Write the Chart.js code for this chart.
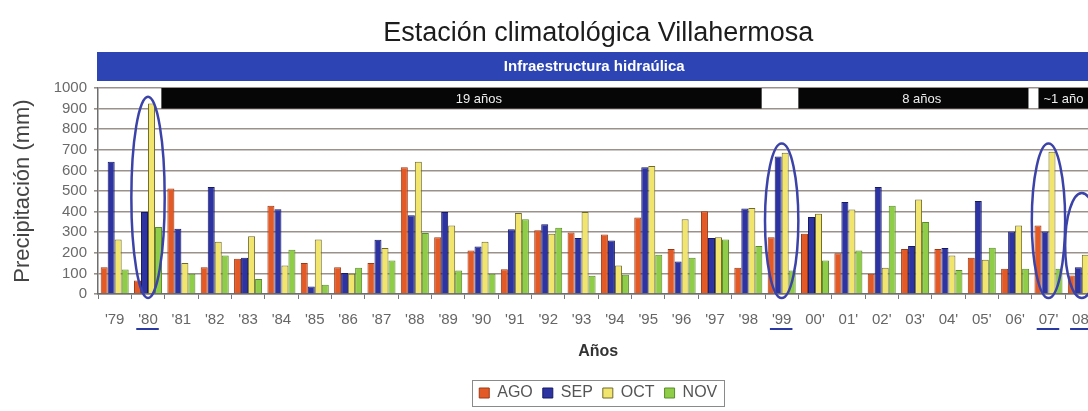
<!DOCTYPE html>
<html>
<head>
<meta charset="utf-8">
<title>Estación climatológica Villahermosa</title>
<script src="https://cdn.jsdelivr.net/npm/chart.js@4/dist/chart.umd.min.js"></script>
<style>
  html, body { margin: 0; padding: 0; background: #ffffff; overflow: hidden; }
  #wrap { position: relative; width: 1110px; height: 411px; }
</style>
</head>
<body>
<div id="wrap"><canvas id="chart"></canvas></div>
<script>
// Years (x categories)
const years = ["'79", "'80", "'81", "'82", "'83", "'84", "'85", "'86", "'87", "'88",
               "'89", "'90", "'91", "'92", "'93", "'94", "'95", "'96", "'97", "'98",
               "'99", "00'", "01'", "02'", "03'", "04'", "05'", "06'", "07'", "08'"];

// Monthly precipitation (mm)
const ago = [130, 65, 512, 130, 171, 428, 150, 130, 150, 615, 276, 211, 120, 309, 298,
             289, 371, 219, 402, 127, 276, 293, 198, 98, 219, 219, 176, 122, 333, 90];
const sep = [642, 398, 317, 520, 176, 411, 37, 102, 263, 382, 398, 231, 314, 338, 272,
             260, 615, 158, 272, 415, 667, 374, 447, 520, 233, 223, 452, 304, 304, 130];
const oct = [265, 925, 150, 254, 280, 138, 265, 98, 223, 642, 333, 254, 393, 293, 398,
             138, 621, 363, 276, 418, 686, 390, 410, 127, 459, 187, 166, 333, 691, 190];
const nov = [119, 325, 98, 187, 73, 215, 45, 127, 163, 296, 114, 98, 363, 322, 89,
             93, 190, 176, 265, 233, 114, 163, 211, 428, 350, 117, 224, 122, 122, 100];

// Y axis tick labels (mm)
const yTicks = [0, 100, 200, 300, 400, 500, 600, 700, 800, 900, 1000];

// Banner over the whole period
const bannerText = 'Infraestructura hidraúlica';

// Periods between events, in year units counted from the first year's left edge
const periodFrom  = [1.9, 21.0, 28.2];
const periodTo    = [19.9, 27.9, 31.0];
const periodLabel = ['19 años', '8 años', '~1 año'];
const periodTextAt = [11.42, 24.7, 28.95];

// Highlighted years and the top of the marking ellipse (mm)
const circledYears = ["'80", "'99", "07'", "08'"];
const circledTop   = [958, 730, 730, 490];

const FONT = '"Liberation Sans", Arial, Helvetica, sans-serif';
Chart.defaults.font.family = FONT;

const decor = {
  id: 'decor',
  beforeDatasetsDraw(chart) {
    const { ctx, chartArea: a, scales: { x, y } } = chart;
    ctx.save();
    // blue banner
    ctx.fillStyle = '#2c44b4';
    ctx.fillRect(a.left - 1, a.top - 36, chart.width - a.left + 1, 29);
    ctx.fillStyle = '#ffffff';
    ctx.font = 'bold 15px ' + FONT;
    ctx.textAlign = 'center';
    ctx.textBaseline = 'middle';
    ctx.fillText(bannerText, (a.left + a.right) / 2 - 4, a.top - 21);
    // black period bars
    const y0 = y.getPixelForValue(1000), y1 = y.getPixelForValue(900);
    periodFrom.forEach((f, k) => {
      const x0 = x.getPixelForValue(f - 0.5);
      const x1 = x.getPixelForValue(periodTo[k] - 0.5);
      ctx.fillStyle = '#060606';
      ctx.fillRect(x0, y0, x1 - x0, y1 - y0);
      ctx.fillStyle = '#eeeeee';
      ctx.font = '13px ' + FONT;
      ctx.fillText(periodLabel[k], x.getPixelForValue(periodTextAt[k] - 0.5), (y0 + y1) / 2 + 1);
    });
    ctx.restore();
  },
  afterDatasetsDraw(chart) {
    const { ctx, scales: { x, y } } = chart;
    const w = x.getPixelForValue(1) - x.getPixelForValue(0);
    ctx.save();
    ctx.strokeStyle = '#3b42a8';
    ctx.lineWidth = 2.5;
    circledYears.forEach((lab, k) => {
      const i = years.indexOf(lab);
      const cx = x.getPixelForValue(i);
      const top = y.getPixelForValue(circledTop[k]);
      const bot = y.getPixelForValue(-20);
      ctx.beginPath();
      ctx.ellipse(cx, (top + bot) / 2, w / 2, (bot - top) / 2, 0, 0, Math.PI * 2);
      ctx.stroke();
    });
    ctx.restore();
  },
  afterDraw(chart) {
    const { ctx, scales: { x } } = chart;
    ctx.save();
    // underline highlighted year labels
    ctx.font = '15px ' + FONT;
    ctx.strokeStyle = '#2b3aa2';
    ctx.lineWidth = 2;
    const ly = x.top + 5 + 12 + 9 + 9;
    circledYears.forEach(lab => {
      const i = years.indexOf(lab);
      const cx = x.getPixelForValue(i);
      const tw = ctx.measureText(lab).width;
      ctx.beginPath();
      ctx.moveTo(cx - tw / 2 - 2, ly);
      ctx.lineTo(cx + tw / 2 + 1, ly);
      ctx.stroke();
    });
    // frame around the legend
    const lg = chart.legend;
    if (lg && lg.legendHitBoxes && lg.legendHitBoxes.length) {
      const hb = lg.legendHitBoxes;
      const l = Math.min(...hb.map(b => b.left)) - 7;
      const r = Math.max(...hb.map(b => b.left + b.width)) + 7;
      const t = Math.min(...hb.map(b => b.top)) - 5;
      const bt = Math.max(...hb.map(b => b.top + b.height)) + 5;
      ctx.strokeStyle = '#8a8a8a';
      ctx.lineWidth = 1;
      ctx.strokeRect(Math.round(l) + 0.5, Math.round(t) + 0.5, Math.round(r - l), Math.round(bt - t));
    }
    ctx.restore();
  }
};

const mk = (label, data, bg, border) => ({
  label, data, backgroundColor: bg, borderColor: border, borderWidth: 1,
  categoryPercentage: 0.84, barPercentage: 1.0
});

new Chart(document.getElementById('chart'), {
  type: 'bar',
  data: {
    labels: years,
    datasets: [
      mk('AGO', ago, '#e45a26', '#9c3a16'),
      mk('SEP', sep, '#2d33a0', '#161a66'),
      mk('OCT', oct, '#f1e56e', '#6f6a2c'),
      mk('NOV', nov, '#8fcd48', '#5b8c2a')
    ]
  },
  options: {
    responsive: true,
    maintainAspectRatio: false,
    animation: false,
    layout: { padding: { left: 0, right: 11.5, top: 0, bottom: 0 } },
    plugins: {
      title: {
        display: true,
        text: 'Estación climatológica Villahermosa',
        fullSize: false,
        color: '#1c1c1c',
        font: { family: FONT, size: 27, weight: 'normal' },
        padding: { top: 17, bottom: 38.6 }
      },
      legend: {
        position: 'bottom',
        fullSize: false,
        labels: {
          boxWidth: 10, boxHeight: 10, padding: 10,
          color: '#555555',
          font: { family: FONT, size: 16 }
        }
      },
      tooltip: { enabled: false }
    },
    scales: {
      x: {
        grid: { display: true, drawOnChartArea: false, drawTicks: true, tickLength: 5, color: '#777777', offset: true },
        border: { display: true, color: '#6e6e6e', width: 1.5 },
        ticks: { color: '#666666', font: { family: FONT, size: 15 }, padding: 12, maxRotation: 0, autoSkip: false },
        title: { display: true, text: 'Años', color: '#333333', font: { family: FONT, size: 16, weight: 'bold' }, padding: { top: 4, bottom: 13.4 } },
        afterFit(scale) { scale.height = 81; }
      },
      y: {
        min: 0, max: 1000,
        afterBuildTicks(scale) { scale.ticks = yTicks.map(v => ({ value: v })); },
        grid: { color: '#9b918b', lineWidth: 1.6, tickLength: 4, drawTicks: true },
        border: { display: true, color: '#6e6e6e', width: 1.5 },
        ticks: { color: '#6a6a6a', font: { family: FONT, size: 15 }, padding: 7, autoSkip: false, callback: v => String(v) },
        title: { display: true, text: 'Precipitación (mm)', color: '#444444', font: { family: FONT, size: 22 }, padding: { top: 10, bottom: 0 } },
        afterFit(scale) { scale.width = 98; }
      }
    }
  },
  plugins: [decor]
});
</script>
</body>
</html>
